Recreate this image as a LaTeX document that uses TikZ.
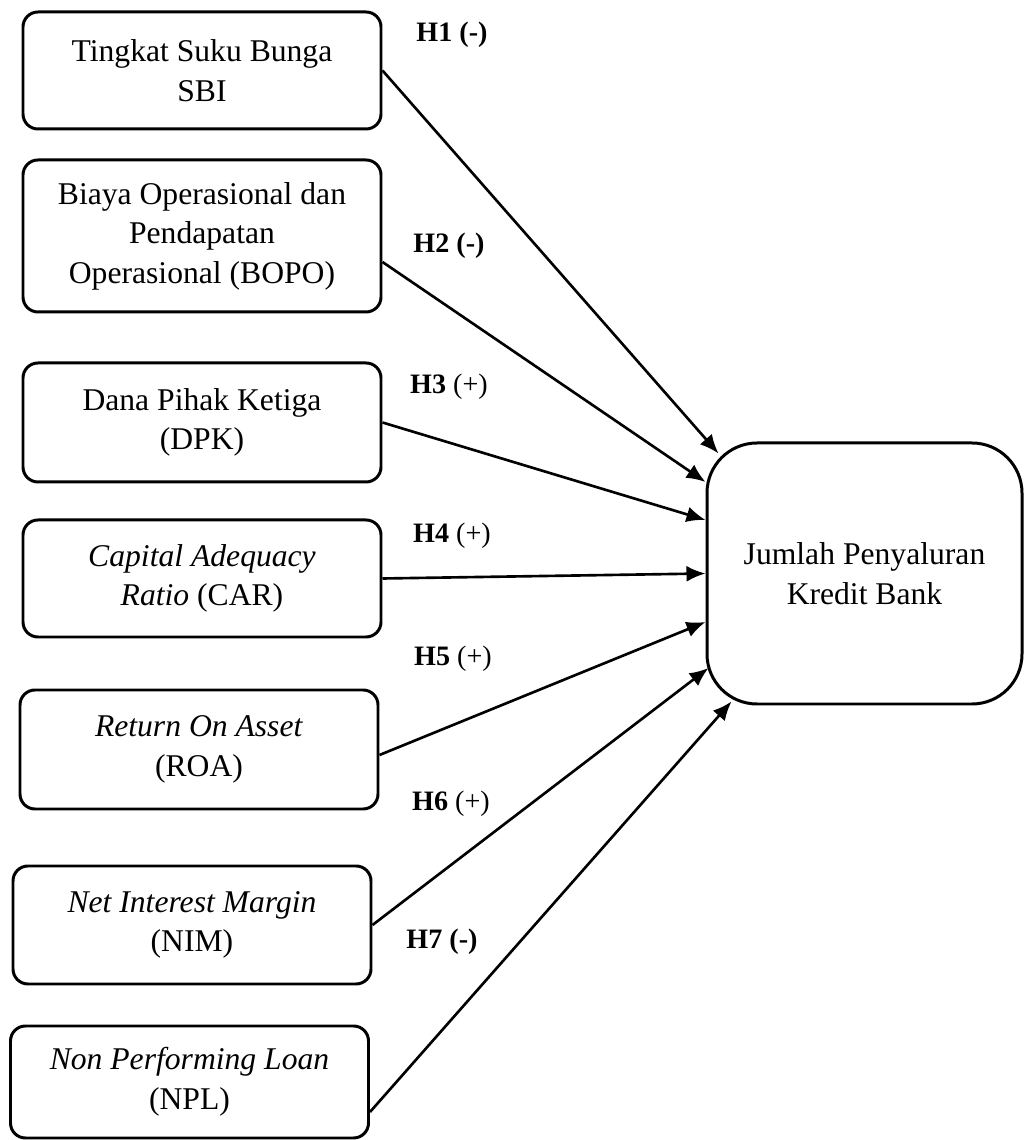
\documentclass[tikz,border=0pt]{standalone}
\usepackage{fontspec}
\setmainfont{Liberation Serif}
\usetikzlibrary{arrows.meta}

\begin{document}
\begin{tikzpicture}[
    varbox/.style={draw, line width=1.7pt, rounded corners=0.3cm, minimum width=7.16cm, align=center, font=\fontsize{18}{22.5}\selectfont},
    hlabel/.style={font=\fontsize{16}{19}\selectfont},
    link/.style={-{Latex[length=3.8mm,width=3.2mm]}, line width=1.5pt}]
    \useasboundingbox (0,0) rectangle (20.48,22.8);
    \node[varbox, minimum height=2.34cm] (sbi) at (4.04,21.39) {Tingkat Suku Bunga\\SBI};
    \node[varbox, minimum height=3.04cm] (bopo) at (4.04,18.08) {Biaya Operasional dan\\Pendapatan\\Operasional (BOPO)};
    \node[varbox, minimum height=2.38cm] (dpk) at (4.04,14.35) {Dana Pihak Ketiga\\(DPK)};
    \node[varbox, minimum height=2.34cm] (car) at (4.04,11.23) {\textit{Capital Adequacy}\\\textit{Ratio} (CAR)};
    \node[varbox, minimum height=2.38cm] (roa) at (3.98,7.81) {\textit{Return On Asset}\\(ROA)};
    \node[varbox, minimum height=2.36cm] (nim) at (3.84,4.30) {\textit{Net Interest Margin}\\(NIM)};
    \node[varbox, minimum height=2.24cm] (npl) at (3.79,1.16) {\textit{Non Performing Loan}\\(NPL)};
    \node[varbox, minimum width=6.3cm, minimum height=5.22cm, rounded corners=1cm] (kredit) at (17.29,11.33) {Jumlah Penyaluran\\Kredit Bank};
    % hypothesis labels
    \node[hlabel] (h1) at (9.04,22.1) {\textbf{H1 (-)}};
    \node[hlabel] (h2) at (8.98,17.88) {\textbf{H2 (-)}};
    \node[hlabel] (h3) at (8.98,15.06) {\textbf{H3} (+)};
    \node[hlabel] (h4) at (9.04,12.08) {\textbf{H4} (+)};
    \node[hlabel] (h5) at (9.06,9.62) {\textbf{H5} (+)};
    \node[hlabel] (h6) at (9.02,6.72) {\textbf{H6} (+)};
    \node[hlabel] (h7) at (8.84,3.96) {\textbf{H7 (-)}};
    % arrows
    \draw[link] (sbi.east) -- ([xshift=0.26cm,yshift=-0.24cm]kredit.north west);
    \draw[link] ([yshift=-0.52cm]bopo.east) -- ([yshift=1.83cm]kredit.west);
    \draw[link] (dpk.east) -- ([yshift=1.07cm]kredit.west);
    \draw[link] (car.east) -- (kredit.west);
    \draw[link] ([yshift=-0.11cm]roa.east) -- ([yshift=-0.97cm]kredit.west);
    \draw[link] (nim.east) -- ([xshift=0.06cm,yshift=-1.89cm]kredit.west);
    \draw[link] ([yshift=-0.6cm]npl.east) -- ([xshift=0.52cm,yshift=0.08cm]kredit.south west);
\end{tikzpicture}
\end{document}
